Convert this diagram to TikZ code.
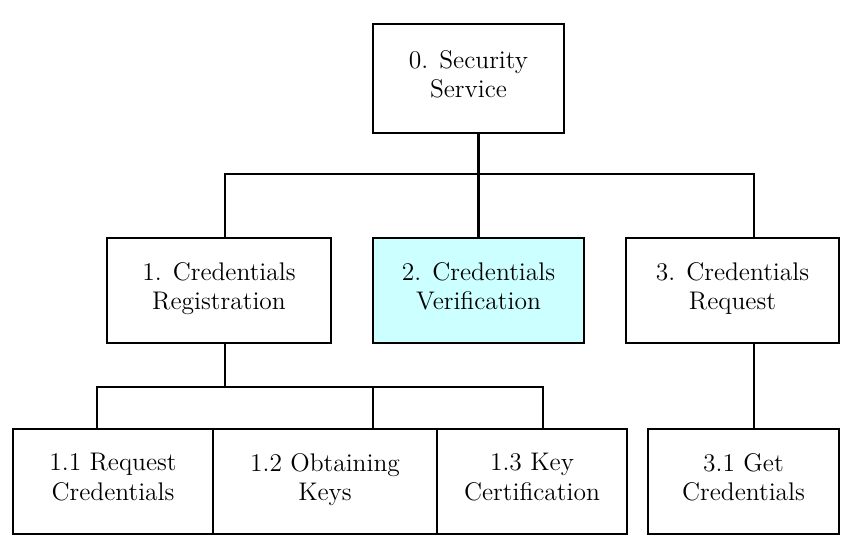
\documentclass[tikz,border=0pt]{standalone}
\usepackage{fontspec}
\usepackage{tikz}
\definecolor{VerifyCyan}{HTML}{CCFFFF}

\begin{document}
\begin{tikzpicture}[
    task/.style={draw=black, line width=1.5pt, fill=#1, align=center,
        minimum height=2.1cm, inner sep=0pt,
        font=\fontsize{14.5}{17}\selectfont,
        execute at begin node=\strut, execute at end node=\strut},
    task/.default=white,
    link/.style={line width=1.2pt}
]
    \useasboundingbox (0,0) rectangle (17,10.9);

    % Root
    \node[task, minimum width=3.82cm, minimum height=2.18cm] (root) at (9.37,9.33) {0. Security\\Service};

    % Second level
    \node[task, minimum width=4.48cm] (reg) at (4.38,5.09) {1. Credentials\\Registration};
    \node[task=VerifyCyan, minimum width=4.22cm] (ver) at (9.57,5.09) {2. Credentials\\Verification};
    \node[task, minimum width=4.26cm] (req) at (14.65,5.09) {3. Credentials\\Request};

    % Third level
    \node[task, minimum width=4.0cm] (reqcred) at (2.26,1.27) {1.1 Request\\Credentials};
    \node[task, minimum width=4.48cm] (keys) at (6.5,1.27) {1.2 Obtaining\\Keys};
    \node[task, minimum width=3.8cm] (cert) at (10.64,1.27) {1.3 Key\\Certification};
    \node[task, minimum width=3.82cm] (getcred) at (14.87,1.27) {3.1 Get\\Credentials};

    % Top bus
    \coordinate (tapL) at (4.5,7.42);
    \coordinate (tapR) at (15.08,7.42);
    \draw[link] (ver.north) -- (ver.north |- root.south);
    \draw[link] (tapL |- reg.north) -- (tapL) -- (tapR) -- (tapR |- req.north);

    % Bus under registration
    \coordinate (subA) at (1.94,3.16);
    \coordinate (subB) at (7.46,3.16);
    \coordinate (subC) at (10.86,3.16);
    \draw[link] (tapL |- reg.south) -- (tapL |- subA);
    \draw[link] (subA |- reqcred.north) -- (subA) -- (subC) -- (subC |- cert.north);
    \draw[link] (subB) -- (subB |- keys.north);

    % Request to get credentials
    \draw[link] (tapR |- req.south) -- (tapR |- getcred.north);
\end{tikzpicture}
\end{document}
